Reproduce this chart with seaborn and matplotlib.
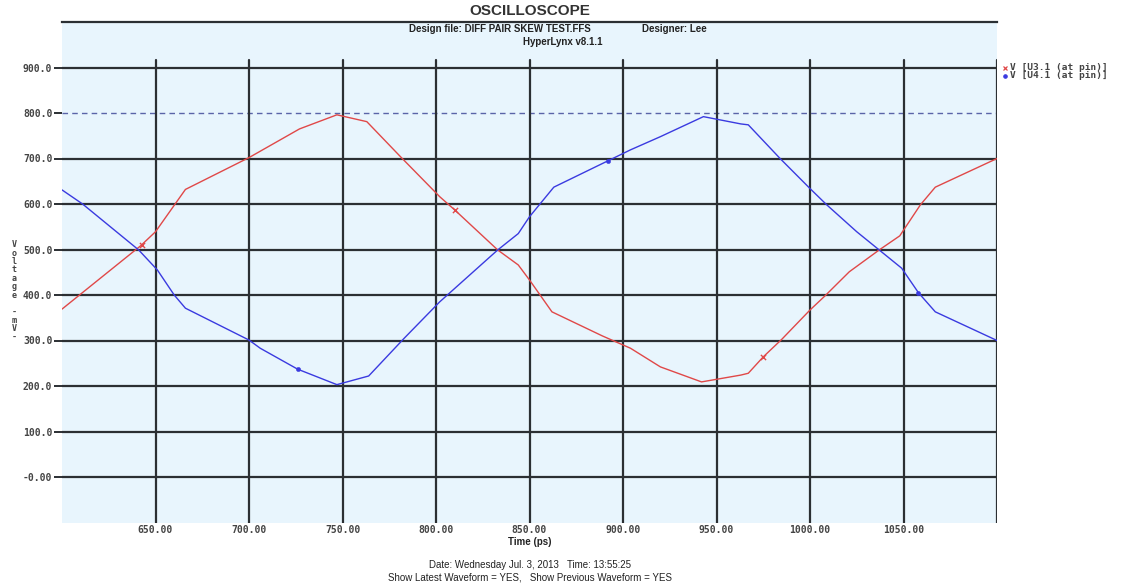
"""
HyperLynx oscilloscope capture -- differential pair skew test
"""
import numpy as np
import pandas as pd
import matplotlib
matplotlib.use("Agg")
import matplotlib.pyplot as plt
import seaborn as sns

SERIES = ["V [U3.1 (at pin)]", "V [U4.1 (at pin)]"]

u3_t = [600, 642, 650, 666, 700, 727, 747, 763, 781, 802, 810, 833, 844, 850,
        862, 889, 904, 920, 942, 963, 967, 975, 985, 1000, 1008, 1021, 1037,
        1048, 1059, 1067, 1100]
u3_v = [369, 508, 539, 632, 702, 765, 796, 781, 704, 616, 587, 499, 466, 433,
        363, 310, 283, 242, 209, 224, 228, 264, 303, 367, 398, 451, 499,
        530, 598, 637, 700]

u4_t = [600, 611, 641, 651, 660, 666, 700, 706, 726, 747, 764, 783, 802, 833,
        844, 850, 863, 892, 904, 920, 943, 963, 967, 984, 1000, 1009, 1025,
        1037, 1049, 1058, 1067, 1100]
u4_v = [631, 600, 499, 455, 400, 371, 301, 283, 237, 203, 222, 305, 385, 499,
        535, 572, 637, 695, 719, 748, 792, 776, 774, 700, 634, 598, 539,
        499, 459, 405, 363, 300]

# marker positions shown on each trace
u3_mark_t = [643, 810, 975]
u3_mark_v = [510, 587, 264]
u4_mark_t = [726, 892, 1058]
u4_mark_v = [237, 695, 405]

REF_LEVEL = 800
x_ticks = [650, 700, 750, 800, 850, 900, 950, 1000, 1050]
y_ticks = [0, 100, 200, 300, 400, 500, 600, 700, 800, 900]
y_tick_labels = ["-0.00", "100.0", "200.0", "300.0", "400.0", "500.0",
                 "600.0", "700.0", "800.0", "900.0"]

# -- style ---------------------------------------------------------------------
RED = "#E04848"
BLUE = "#3A3AE0"
GRID = "#2B2F33"
BG = "#E8F5FD"
TXT = "#444444"
MONO = "DejaVu Sans Mono"
NARROW = ["Liberation Sans Narrow", "Liberation Sans", "DejaVu Sans"]

sns.set_style("white")
plt.rcParams["font.family"] = ["DejaVu Sans"]

df = pd.concat([
    pd.DataFrame({"t": u3_t, "v": u3_v, "trace": SERIES[0]}),
    pd.DataFrame({"t": u4_t, "v": u4_v, "trace": SERIES[1]}),
])
marks = pd.concat([
    pd.DataFrame({"t": u3_mark_t, "v": u3_mark_v, "trace": SERIES[0]}),
    pd.DataFrame({"t": u4_mark_t, "v": u4_mark_v, "trace": SERIES[1]}),
])
palette = {SERIES[0]: RED, SERIES[1]: BLUE}

fig = plt.figure(figsize=(11.3, 5.86), dpi=100, facecolor="white")
ax = fig.add_axes([62 / 1130, 1 - 522.5 / 586, 935 / 1130, 500.5 / 586])
ax.set_facecolor(BG)
ax.set_xlim(600, 1100)
ax.set_ylim(-100, 1000)

# grid
for y in y_ticks:
    if y == REF_LEVEL:
        ax.axhline(y, color="#5A64A8", lw=1.0, ls=(0, (4, 3)), zorder=1)
    else:
        ax.axhline(y, color=GRID, lw=1.6, zorder=1)
for x in x_ticks + [1100]:
    ax.axvline(x, ymin=0, ymax=0.925, color=GRID, lw=1.6, zorder=1)

# traces
sns.lineplot(data=df, x="t", y="v", hue="trace", palette=palette, sort=False,
             estimator=None, lw=1.0, legend=False, ax=ax, zorder=3)
sns.scatterplot(data=marks[marks.trace == SERIES[0]], x="t", y="v", color=RED,
                marker="x", s=14, linewidth=1.0, legend=False, ax=ax, zorder=4)
sns.scatterplot(data=marks[marks.trace == SERIES[1]], x="t", y="v", color=BLUE,
                marker="o", s=10, edgecolor=BLUE, legend=False, ax=ax, zorder=4)

# spines / ticks
for side in ["left", "right", "bottom"]:
    ax.spines[side].set_visible(False)
ax.spines["top"].set_color(GRID)
ax.spines["top"].set_linewidth(1.6)

ax.set_xticks(x_ticks)
ax.set_xticklabels([f"{x:.2f}" for x in x_ticks], fontfamily=MONO,
                   fontsize=7, fontweight="bold", color=TXT)
ax.set_yticks(y_ticks)
ax.set_yticklabels(y_tick_labels, fontfamily=MONO, fontsize=7,
                   fontweight="bold", color=TXT)
ax.tick_params(axis="x", length=0, pad=2)
ax.tick_params(axis="y", length=6, width=1.4, color=GRID, pad=1, left=True)
ax.set_xlabel("Time (ps)", fontsize=7, fontweight="bold", color="#222222",
              family=NARROW, labelpad=1)
ax.set_ylabel("")

# stacked y label
fig.text(14 / 1130, 1 - 291 / 586, "\n".join("Voltage -mV-"), ha="center",
         va="center", fontsize=6, fontweight="bold", family=MONO, color=TXT,
         linespacing=0.92)

# legend: two compact rows to the right of the plot
for i, (name, col, mk) in enumerate([(SERIES[0], RED, "x"),
                                     (SERIES[1], BLUE, "o")]):
    yy = 1 - (68 + 8 * i) / 586
    fig.text(1010 / 1130, yy, name, ha="left", va="center", fontsize=6.8,
             fontweight="bold", family=MONO, color=TXT)
    fig.lines.append(plt.Line2D([1005 / 1130], [yy], marker=mk, color=col,
                                ms=2.8 if mk == "x" else 2.4, mew=0.9, ls="",
                                transform=fig.transFigure, figure=fig))

# header / footer text
fig.text(530 / 1130, 1 - 11 / 586, "OSCILLOSCOPE", ha="center", va="center",
         fontsize=11, fontweight="bold", color="#333333", family=NARROW)
fig.text(500 / 1130, 1 - 29 / 586, "Design file: DIFF PAIR SKEW TEST.FFS",
         ha="center", va="center", fontsize=7, fontweight="bold",
         color="#222222", family=NARROW)
fig.text(674 / 1130, 1 - 29 / 586, "Designer: Lee", ha="center", va="center",
         fontsize=7, fontweight="bold", color="#222222", family=NARROW)
fig.text(563 / 1130, 1 - 42 / 586, "HyperLynx v8.1.1", ha="center",
         va="center", fontsize=7, fontweight="bold", color="#222222",
         family=NARROW)
fig.text(530 / 1130, 1 - 565 / 586,
         "Date: Wednesday Jul. 3, 2013   Time: 13:55:25", ha="center",
         va="center", fontsize=7, color="#222222", family=NARROW)
fig.text(530 / 1130, 1 - 577 / 586,
         "Show Latest Waveform = YES,   Show Previous Waveform = YES",
         ha="center", va="center", fontsize=7, color="#222222", family=NARROW)

fig.savefig("out.png", dpi=100, facecolor="white")
